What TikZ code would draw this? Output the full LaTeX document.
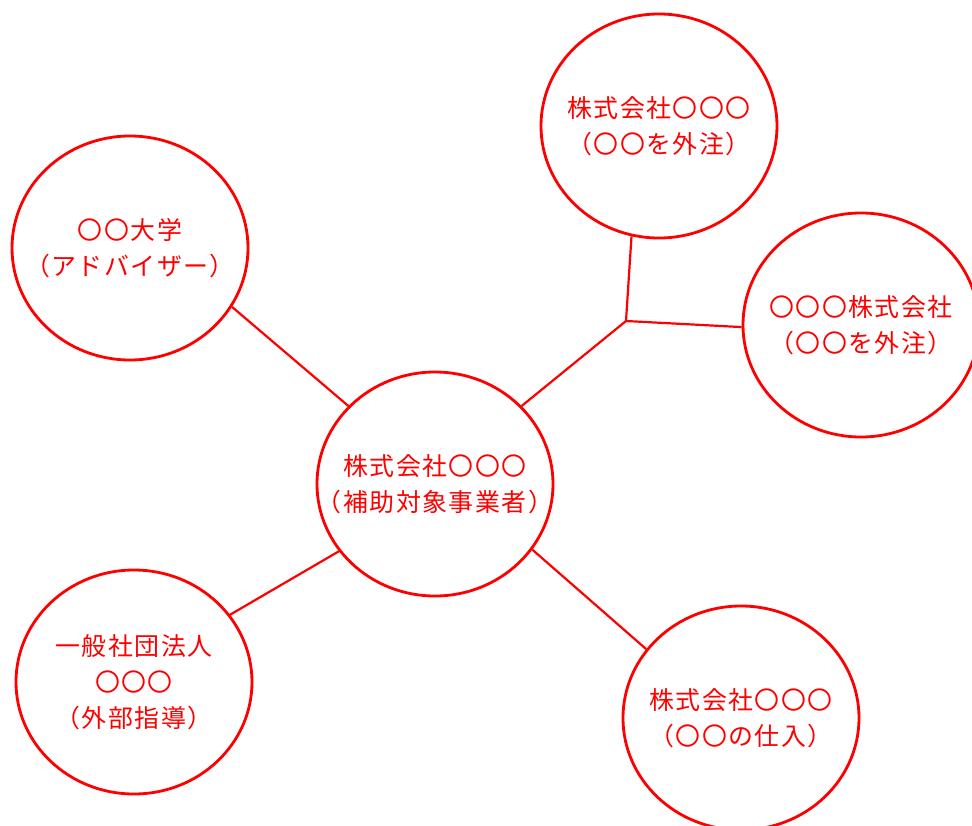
\documentclass[tikz,border=0pt]{standalone}
\usepackage{fontspec}
\newfontfamily\jp[LetterSpace=6]{Noto Sans CJK JP}
\usetikzlibrary{shapes.geometric}
\definecolor{rd}{RGB}{255,0,0}
\begin{document}
\begin{tikzpicture}[x=1bp,y=-1bp,
  bub/.style={ellipse, draw=rd, line width=2.8bp, minimum width=236bp, minimum height=224bp,
    inner sep=0pt},
  lab/.style={text=rd, align=center, inner sep=0pt, font=\jp\fontsize{25}{36}\selectfont},
  lnk/.style={draw=rd, line width=2.2bp}]
\useasboundingbox (0,0) rectangle (972,826);
\clip (0,0) rectangle (972,826);
\fill[white] (0,0) rectangle (972,826);
\node[bub, label={[lab]center:株式会社〇〇〇\\（補助対象事業者）}] (c)  at (435,484) {};
\node[bub, label={[lab]center:株式会社〇〇〇\\（〇〇を外注）}] (t)  at (659,126) {};
\node[bub, label={[lab]center:〇〇〇株式会社\\（〇〇を外注）}] (r)  at (861,325) {};
\node[bub, label={[lab]center:〇〇大学\\（アドバイザー）}] (tl) at (130,248) {};
\node[bub, label={[lab]center:一般社団法人\\〇〇〇\\（外部指導）}] (bl) at (134,682) {};
\node[bub, label={[lab]center:株式会社〇〇〇\\（〇〇の仕入）}] (br) at (741,718) {};
\coordinate (j) at (626,321);
\draw[lnk] (c.138) -- (tl.-30);
\draw[lnk] (c.215) -- (bl.35);
\draw[lnk] (c.-34) -- (br.144);
\draw[lnk] (c.42) -- (j);
\draw[lnk] (j) -- (t.256);
\draw[lnk] (j) -- (r.181);
\end{tikzpicture}
\end{document}
